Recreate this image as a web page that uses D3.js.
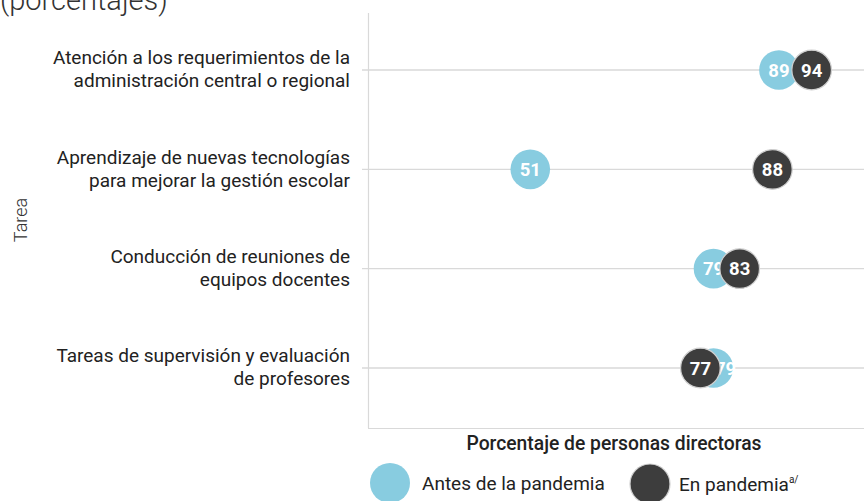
<!DOCTYPE html>
<html>
<head>
<meta charset="utf-8">
<script src="https://cdn.jsdelivr.net/npm/d3@7"></script>
<style>
  body { margin: 0; background: #fff; }
  svg { display: block; font-family: "Roboto", "Noto Sans", sans-serif; }
</style>
</head>
<body>
<div id="chart"></div>
<script>
'use strict';

// Data
var tasks = [
  ['Atención a los requerimientos de la', 'administración central o regional'],
  ['Aprendizaje de nuevas tecnologías', 'para mejorar la gestión escolar'],
  ['Conducción de reuniones de', 'equipos docentes'],
  ['Tareas de supervisión y evaluación', 'de profesores']
];
var antes = [89, 51, 79, 79];
var enPandemia = [94, 88, 83, 77];
var seriesNames = ['Antes de la pandemia', 'En pandemia'];

var width = 864, height = 501;
var margin = {top: 13, right: 0, bottom: 73, left: 368};
var blue = '#88cce0', dark = '#3d3d3d';

var svg = d3.select('#chart').append('svg')
    .attr('width', width)
    .attr('height', height);

var x = d3.scaleLinear()
    .domain([26.2, 102])
    .range([margin.left, width - margin.right]);

var y = d3.scalePoint()
    .domain(d3.range(tasks.length))
    .range([70, 368]);

// Title fragment (cut at top)
svg.append('text')
    .attr('x', 0)
    .attr('y', 10)
    .attr('fill', '#333')
    .attr('font-size', 29)
    .attr('font-weight', 300)
    .text('(porcentajes)');

// Panel border (left and bottom)
svg.append('line')
    .attr('x1', margin.left + 0.5).attr('x2', margin.left + 0.5)
    .attr('y1', margin.top).attr('y2', height - margin.bottom)
    .attr('stroke', '#d9d9d9').attr('stroke-width', 1.2);
svg.append('line')
    .attr('x1', margin.left).attr('x2', width)
    .attr('y1', height - margin.bottom + 0.5).attr('y2', height - margin.bottom + 0.5)
    .attr('stroke', '#d9d9d9').attr('stroke-width', 1.2);

// Horizontal gridlines with small ticks
svg.append('g').selectAll('line')
  .data(tasks)
  .join('line')
    .attr('x1', margin.left - 6).attr('x2', width)
    .attr('y1', function(d, i) { return y(i); })
    .attr('y2', function(d, i) { return y(i); })
    .attr('stroke', '#d9d9d9').attr('stroke-width', 1.4);

// Category labels
var labels = svg.append('g').selectAll('text')
  .data(tasks)
  .join('text')
    .attr('text-anchor', 'end')
    .attr('fill', '#222')
    .attr('font-size', 19)
    .attr('y', function(d, i) { return y(i); });
labels.selectAll('tspan')
  .data(function(d) { return d; })
  .join('tspan')
    .attr('x', 350)
    .attr('dy', function(d, j) { return j === 0 ? '-0.3em' : '1.22em'; })
    .text(function(d) { return d; });

// Y axis title
svg.append('text')
    .attr('transform', 'translate(27,220) rotate(-90)')
    .attr('text-anchor', 'middle')
    .attr('fill', '#333')
    .attr('font-size', 18)
    .attr('font-weight', 300)
    .text('Tarea');

// X axis title
svg.append('text')
    .attr('x', 614)
    .attr('y', 450)
    .attr('text-anchor', 'middle')
    .attr('fill', '#222')
    .attr('font-size', 19.3)
    .attr('font-weight', 500)
    .text('Porcentaje de personas directoras');

// Dots
var r = 19.8;
function drawSeries(values, other, fill, stroke) {
  var g = svg.append('g');
  g.selectAll('circle')
    .data(values)
    .join('circle')
      .attr('cx', function(d) { return x(d); })
      .attr('cy', function(d, i) { return y(i); })
      .attr('r', r)
      .attr('fill', fill)
      .attr('stroke', stroke)
      .attr('stroke-width', 1.2);
  g.selectAll('text')
    .data(values)
    .join('text')
      .attr('x', function(d, i) {
        // nudge a label away when the other dot sits on top of it
        var gap = x(d) - x(other[i]);
        var nudge = (gap > 0 && gap < 2 * r) ? 12 : 0;
        return x(d) + nudge;
      })
      .attr('y', function(d, i) { return y(i); })
      .attr('dy', '0.36em')
      .attr('text-anchor', 'middle')
      .attr('fill', '#fff')
      .attr('font-size', 18.5)
      .attr('font-weight', 700)
      .text(function(d) { return d; });
}
drawSeries(antes, enPandemia, blue, 'none');
drawSeries(enPandemia, [], dark, '#cfcfcf');

// Legend
var legend = svg.append('g');
var legendItems = [
  {cx: 390, cy: 483, fill: blue, stroke: 'none', tx: 422, name: seriesNames[0], sup: ''},
  {cx: 650, cy: 484, fill: dark, stroke: '#cfcfcf', tx: 679, name: seriesNames[1], sup: 'a/'}
];
legendItems.forEach(function(it) {
  legend.append('circle')
      .attr('cx', it.cx).attr('cy', it.cy).attr('r', 20)
      .attr('fill', it.fill).attr('stroke', it.stroke).attr('stroke-width', 1.2);
  var t = legend.append('text')
      .attr('x', it.tx).attr('y', it.cy + 7)
      .attr('fill', '#222')
      .attr('font-size', 19)
      .text(it.name);
  if (it.sup) {
    t.append('tspan')
        .attr('font-size', 10)
        .attr('dy', -8)
        .text(it.sup);
  }
});
</script>
</body>
</html>
